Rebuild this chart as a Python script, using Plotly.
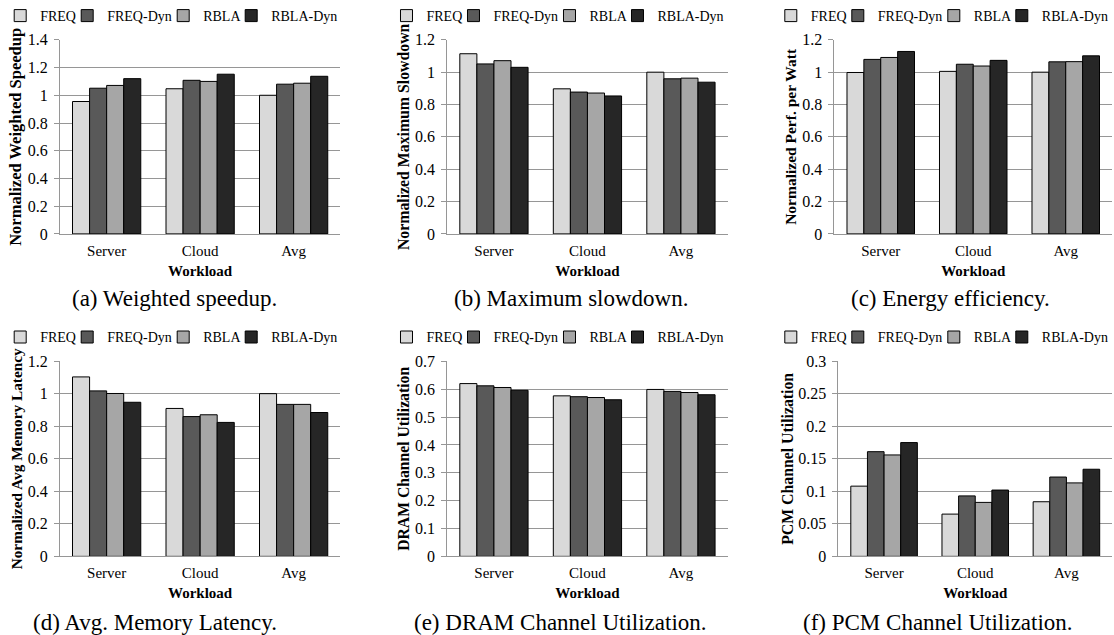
import plotly.graph_objects as go

# ---------------- data ----------------
categories = ["Server", "Cloud", "Avg"]
series_names = ["FREQ", "FREQ-Dyn", "RBLA", "RBLA-Dyn"]

# (a) Weighted speedup
ws_freq = [0.955, 1.047, 1.000]
ws_freq_dyn = [1.051, 1.108, 1.080]
ws_rbla = [1.071, 1.100, 1.087]
ws_rbla_dyn = [1.120, 1.152, 1.137]

# (b) Maximum slowdown
ms_freq = [1.114, 0.897, 1.000]
ms_freq_dyn = [1.051, 0.877, 0.959]
ms_rbla = [1.071, 0.871, 0.963]
ms_rbla_dyn = [1.030, 0.853, 0.938]

# (c) Energy efficiency
ee_freq = [0.998, 1.005, 1.000]
ee_freq_dyn = [1.079, 1.049, 1.064]
ee_rbla = [1.091, 1.038, 1.065]
ee_rbla_dyn = [1.128, 1.073, 1.101]

# (d) Avg. memory latency
lat_freq = [1.104, 0.910, 1.001]
lat_freq_dyn = [1.018, 0.860, 0.935]
lat_rbla = [1.002, 0.871, 0.935]
lat_rbla_dyn = [0.948, 0.824, 0.885]

# (e) DRAM channel utilization
dram_freq = [0.620, 0.576, 0.599]
dram_freq_dyn = [0.612, 0.573, 0.592]
dram_rbla = [0.606, 0.570, 0.588]
dram_rbla_dyn = [0.596, 0.562, 0.580]

# (f) PCM channel utilization
pcm_freq = [0.108, 0.065, 0.084]
pcm_freq_dyn = [0.161, 0.093, 0.122]
pcm_rbla = [0.156, 0.083, 0.113]
pcm_rbla_dyn = [0.175, 0.102, 0.134]

panel_series = [
    [ws_freq, ws_freq_dyn, ws_rbla, ws_rbla_dyn],
    [ms_freq, ms_freq_dyn, ms_rbla, ms_rbla_dyn],
    [ee_freq, ee_freq_dyn, ee_rbla, ee_rbla_dyn],
    [lat_freq, lat_freq_dyn, lat_rbla, lat_rbla_dyn],
    [dram_freq, dram_freq_dyn, dram_rbla, dram_rbla_dyn],
    [pcm_freq, pcm_freq_dyn, pcm_rbla, pcm_rbla_dyn],
]

y_titles = [
    "Normalized Weighted Speedup",
    "Normalized Maximum Slowdown",
    "Normalized Perf. per Watt",
    "Normalized Avg Memory Latency",
    "DRAM Channel Utilization",
    "PCM Channel Utilization",
]
y_max = [1.4, 1.2, 1.2, 1.2, 0.7, 0.3]
y_step = [0.2, 0.2, 0.2, 0.2, 0.1, 0.05]
x_title = "Workload"
captions = [
    "(a) Weighted speedup.",
    "(b) Maximum slowdown.",
    "(c) Energy efficiency.",
    "(d) Avg. Memory Latency.",
    "(e) DRAM Channel Utilization.",
    "(f) PCM Channel Utilization.",
]

# ---------------- style / layout ----------------
W, H = 1114, 635
colors = ["#d9d9d9", "#595959", "#a6a6a6", "#262626"]
legend_item_w = [22, 51, 23, 0]
grid_col = "#969696"
FONT = "Liberation Serif"

px_x = [(60, 341), (448, 729), (836, 1114), (60, 341), (448, 729), (840, 1114)]
px_y = [(37, 232)] * 3 + [(360, 556)] * 3
leg_pos = [(172, 13), (559, 13), (944, 13), (172, 336), (559, 336), (944, 336)]
cap_pos = [(175, 297), (572, 297), (952, 297), (155, 622), (562, 622), (940, 622)]
ytitle_size = [16.5, 15.8, 15.5, 15.3, 15.7, 15.8]
ytitle_standoff = [1, 1, 1, 1, 1, 0]

fig = go.Figure()
layout = dict(
    width=W, height=H,
    margin=dict(l=0, r=0, t=0, b=0),
    paper_bgcolor="white", plot_bgcolor="white",
    font=dict(family=FONT, color="black"),
    barmode="group", bargap=0.27, bargroupgap=0.0,
    showlegend=True,
    annotations=[],
)

for p in range(6):
    suffix = "" if p == 0 else str(p + 1)
    xa, ya = "x" + suffix, "y" + suffix
    leg = "legend" + suffix
    for s in range(4):
        fig.add_trace(go.Bar(
            x=categories, y=panel_series[p][s], name=series_names[s],
            marker=dict(color=colors[s], line=dict(color="black", width=1)),
            xaxis=xa, yaxis=ya, legend=leg,
            legendwidth=legend_item_w[s] if legend_item_w[s] else None,
        ))
    x0, x1 = px_x[p]
    y0, y1 = px_y[p]
    layout["xaxis" + suffix] = dict(
        domain=[x0 / W, x1 / W], anchor=ya,
        showgrid=False, showline=True, linecolor=grid_col, linewidth=1,
        ticks="", ticklabelstandoff=3,
        tickfont=dict(family=FONT, size=15, color="black"),
        title=dict(text=x_title, standoff=7,
                   font=dict(family=FONT, size=15, color="black", weight="bold")),
        automargin=False, fixedrange=True,
    )
    layout["yaxis" + suffix] = dict(
        domain=[1 - y1 / H, 1 - y0 / H], anchor=xa,
        range=[0, y_max[p]], dtick=y_step[p], tick0=0,
        showgrid=True, gridcolor=grid_col, gridwidth=1,
        zeroline=False,
        showline=True, linecolor=grid_col, linewidth=1,
        ticks="outside", ticklen=5, tickcolor=grid_col,
        ticklabelstandoff=3,
        tickfont=dict(family=FONT, size=16, color="black"),
        title=dict(text=y_titles[p], standoff=ytitle_standoff[p],
                   font=dict(family=FONT, size=ytitle_size[p], color="black",
                             weight="bold")),
        automargin=False, fixedrange=True,
    )
    lx, ly = leg_pos[p]
    layout[leg] = dict(
        orientation="h", x=lx / W, y=1 - ly / H,
        xanchor="center", yanchor="middle",
        xref="paper", yref="paper",
        font=dict(family=FONT, size=14, color="black"),
        bgcolor="rgba(0,0,0,0)", borderwidth=0,
        itemwidth=30, tracegroupgap=0,
    )
    cx, cy = cap_pos[p]
    layout["annotations"].append(dict(
        text=captions[p], x=cx / W, y=1 - cy / H,
        xref="paper", yref="paper", xanchor="center", yanchor="middle",
        showarrow=False, font=dict(family=FONT, size=23, color="black"),
    ))

fig.update_layout(**layout)
fig.write_html(
    "out.html",
    config={"displayModeBar": False},
    post_script="document.body.style.margin='0px';document.body.style.padding='0px';",
)
